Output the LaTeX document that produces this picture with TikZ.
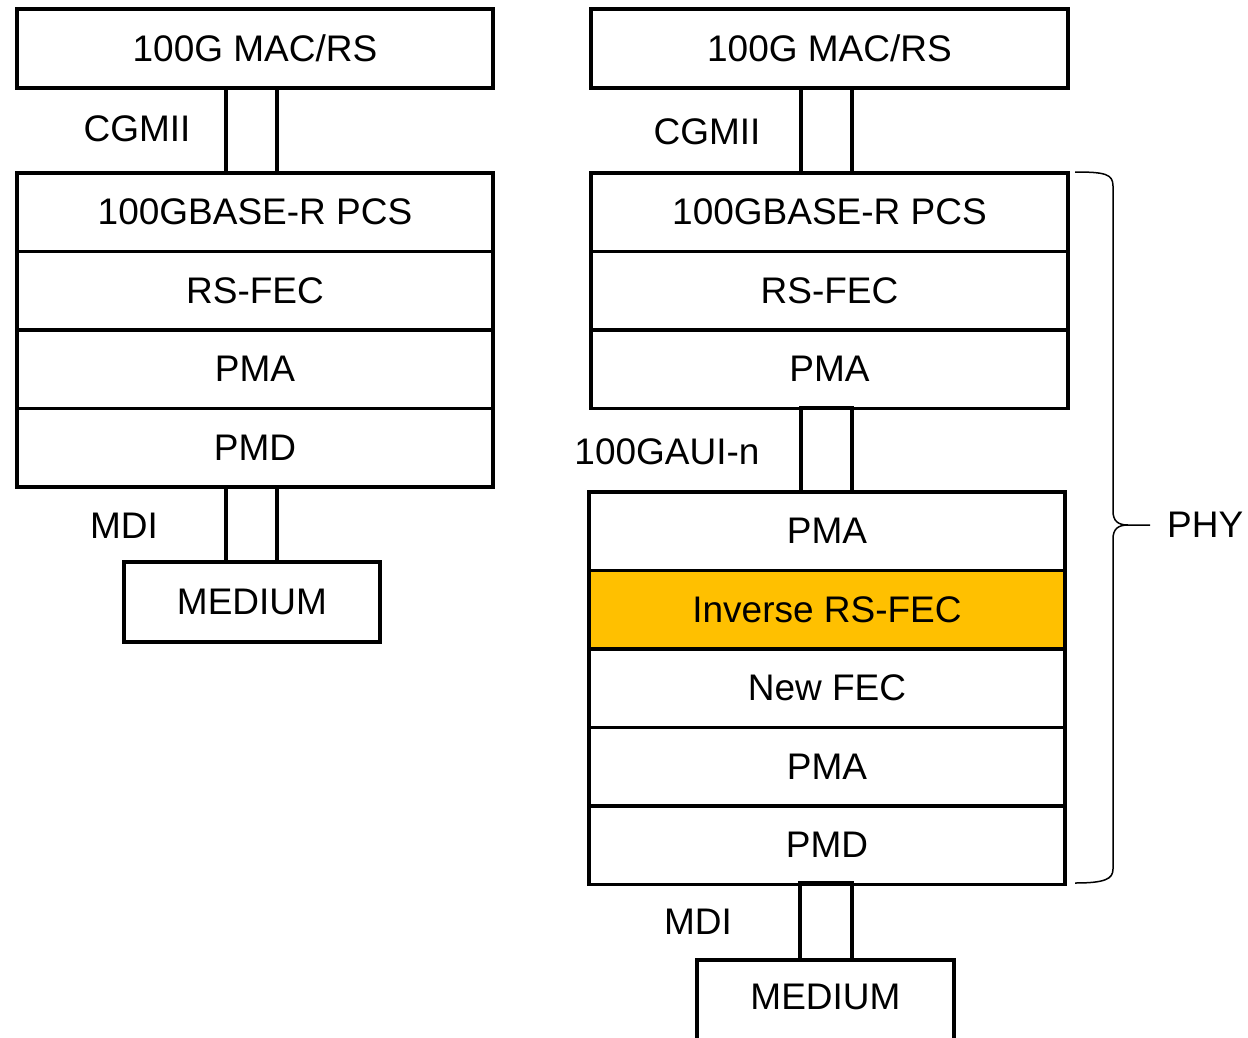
\documentclass[tikz,border=0pt]{standalone}
\usepackage{fontspec}
\setmainfont{Liberation Sans}
\usetikzlibrary{positioning}
\definecolor{fecorange}{HTML}{FFC000}
\begin{document}
\begin{tikzpicture}[x=1pt,y=-1pt,
  layer/.style={draw,line width=3.5pt,minimum width=476pt,minimum height=78.5pt,inner sep=0pt,outer sep=0pt,font=\fontsize{37}{44}\selectfont},
  iface/.style={draw,line width=3.5pt,minimum width=51pt,inner sep=0pt,outer sep=0pt},
  lbl/.style={inner sep=0pt,font=\fontsize{37}{44}\selectfont}]
\useasboundingbox (0,0) rectangle (1248,1037);
% left stack
\node[layer,minimum height=79pt] (lmac) at (255,48.5) {100G MAC/RS};
\node[layer,anchor=north] (lpcs) at (255,173) {100GBASE-R PCS};
\node[layer,below=0pt of lpcs] (lfec) {RS-FEC};
\node[layer,below=0pt of lfec] (lpma) {PMA};
\node[layer,below=0pt of lpma] (lpmd) {PMD};
\node[layer,minimum width=256pt,minimum height=80pt] (lmed) at (252,602) {MEDIUM};
\node[iface,minimum height=85pt] (lcgmii) at (251.5,130.5) {};
\node[iface,minimum height=75pt] (lmdi) at (251.5,524.5) {};
\node[lbl] (lcgmiitxt) at (137,129) {CGMII};
\node[lbl] (lmditxt) at (124,526) {MDI};
% right stack
\node[layer,minimum width=477pt,minimum height=79pt] (rmac) at (829.5,48.5) {100G MAC/RS};
\node[layer,minimum width=477pt,anchor=north] (rpcs) at (829.5,173) {100GBASE-R PCS};
\node[layer,minimum width=477pt,below=0pt of rpcs] (rfec) {RS-FEC};
\node[layer,minimum width=477pt,below=0pt of rfec] (rpma) {PMA};
\node[layer,anchor=north] (rpmb) at (827,492) {PMA};
\node[layer,fill=fecorange,below=0pt of rpmb] (rinv) {Inverse RS-FEC};
\node[layer,below=0pt of rinv] (rnew) {New FEC};
\node[layer,below=0pt of rnew] (rpmc) {PMA};
\node[layer,below=0pt of rpmc] (rpmd) {PMD};
\node[layer,minimum width=257pt,minimum height=80pt,anchor=north] (rmed) at (825.5,960) {};
\node[lbl] (rmedtxt) at (825.5,997) {MEDIUM};
\node[iface,minimum height=85pt] (rcgmii) at (826.5,130.5) {};
\node[iface,minimum height=84pt] (raui) at (826.5,450) {};
\node[iface,minimum width=52pt,minimum height=77pt] (rmdi) at (826,921.5) {};
\node[lbl] (rcgmiitxt) at (707,132) {CGMII};
\node[lbl] (rauitxt) at (667,452) {100GAUI-n};
\node[lbl] (rmditxt) at (698,922) {MDI};
% PHY brace
\coordinate (tip) at (1150,525);
\draw[line width=1.5pt] (1075,172) .. controls (1105,172) and (1113,174) .. (1113,186) -- (1113,511)
  .. controls (1113,521) and (1118,525) .. (1128,525) -- (tip);
\draw[line width=1.5pt] (1128,525) .. controls (1118,525) and (1113,529) .. (1113,539) -- (1113,869)
  .. controls (1113,879) and (1105,883) .. (1075,883);
\node[lbl,right=17pt of tip] (phy) {PHY};
\end{tikzpicture}
\end{document}
